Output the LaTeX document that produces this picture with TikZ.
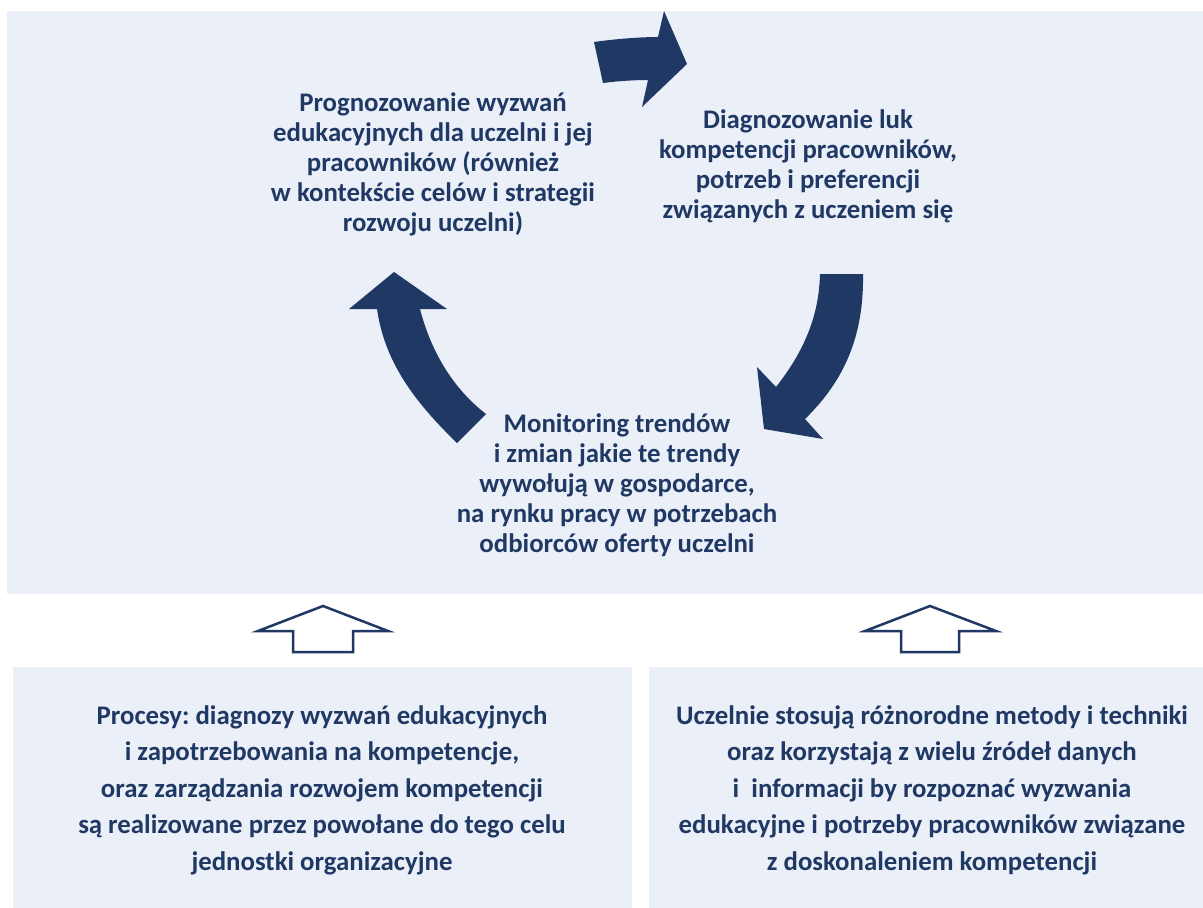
\documentclass[tikz,border=0pt]{standalone}
\usepackage{fontspec}
\setmainfont{Carlito}
\frenchspacing
\definecolor{panel}{HTML}{EAEFF8}
\definecolor{navy}{HTML}{1F3864}
\begin{document}
\begin{tikzpicture}[x=1pt,y=-1pt,
  txt/.style={align=center,text=navy,font=\fontsize{26.8}{30}\selectfont\bfseries,inner sep=0pt},
  btxt/.style={align=center,text=navy,font=\fontsize{26.8}{36.5}\selectfont\bfseries,inner sep=0pt},
  bigarrow/.style={fill=navy,draw=none},
  hollow/.style={draw=navy,line width=2.5pt,fill=white,line join=miter}]
\useasboundingbox (0,0) rectangle (1203,908);
\fill[white] (0,0) rectangle (1203,908);
\fill[panel] (7,11) rectangle (1203,594);
\fill[panel] (13,667) rectangle (632,908);
\fill[panel] (649,667) rectangle (1203,908);
% curved arrows
\fill[bigarrow] (594,42) .. controls (615,39) and (640,37) .. (658,37) -- (664,11) -- (687,64) -- (642,107) -- (648,80)
  .. controls (635,80) and (618,81) .. (603,83) -- cycle;
\fill[bigarrow] (820,274) -- (863,274) .. controls (864,335) and (845,380) .. (805,419) -- (823,439) -- (764,429) -- (757,367) -- (776,387)
  .. controls (805,350) and (819,315) .. (820,274) -- cycle;
\fill[bigarrow] (394,272) -- (447,309) -- (420,309) .. controls (432,355) and (455,390) .. (486,414) -- (457,443)
  .. controls (418,405) and (385,365) .. (377,309) -- (349,309) -- cycle;
% hollow arrows
\draw[hollow] (323,606) -- (388,631) -- (353,631) -- (353,652) -- (293,652) -- (293,631) -- (258,631) -- cycle;
\draw[hollow] (930,606) -- (996,631) -- (959,631) -- (959,652) -- (901,652) -- (901,631) -- (865,631) -- cycle;
% texts
\node[txt] (prog) at (433,164) {Prognozowanie wyzwań\\edukacyjnych dla uczelni i jej\\pracowników (również\\w kontekście celów i strategii\\rozwoju uczelni)};
\node[txt] (diag) at (808,166) {Diagnozowanie luk\\kompetencji pracowników,\\potrzeb i preferencji\\związanych z uczeniem się};
\node[txt] (mon) at (617,485) {Monitoring trendów\\i zmian jakie te trendy\\wywołują w gospodarce,\\na rynku pracy w potrzebach\\odbiorców oferty uczelni};
\node[btxt] (proc) at (322,790) {Procesy: diagnozy wyzwań edukacyjnych\\i zapotrzebowania na kompetencje,\\oraz zarządzania rozwojem kompetencji\\są realizowane przez powołane do tego celu\\jednostki organizacyjne};
\node[btxt] (ucz) at (932,790) {Uczelnie stosują różnorodne metody i techniki\\oraz korzystają z wielu źródeł danych\\i\ \ informacji by rozpoznać wyzwania\\edukacyjne i potrzeby pracowników związane\\z doskonaleniem kompetencji};
\end{tikzpicture}
\end{document}
